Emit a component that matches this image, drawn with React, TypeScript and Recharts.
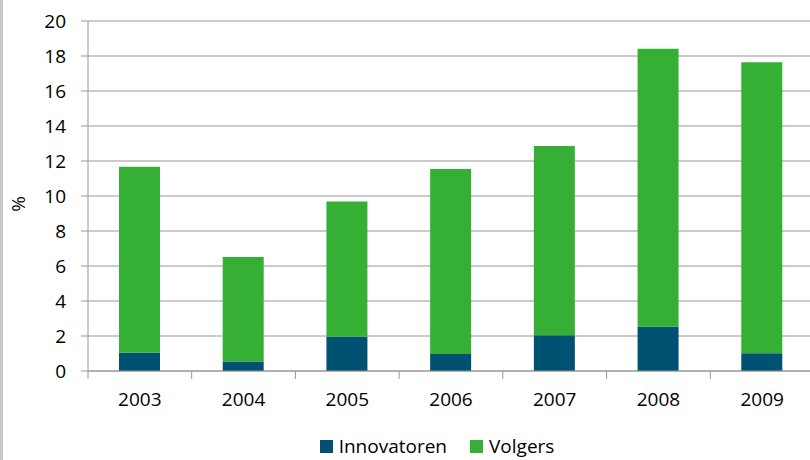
import React from 'react';
import { BarChart, Bar, XAxis, YAxis, CartesianGrid, Legend } from 'recharts';

const years = ['2003', '2004', '2005', '2006', '2007', '2008', '2009'];
const innovatoren = [1.05, 0.55, 1.96, 0.97, 2.04, 2.53, 1.01];
const volgers = [10.62, 5.96, 7.73, 10.57, 10.82, 15.89, 16.63];
const yTicks = [0, 2, 4, 6, 8, 10, 12, 14, 16, 18, 20];
const seriesNames = ['Innovatoren', 'Volgers'];
const colors = ['#005172', '#35b035'];

const data = years.map((y, i) => ({ year: y, innovatoren: innovatoren[i], volgers: volgers[i] }));

const FONT = '"Open Sans", "Noto Sans", sans-serif';
const GRID = '#979797';
const TICK_MARGIN = 22;

const XTick = (props: any) => {
  const { x, y, payload, index, visibleTicksCount } = props;
  const half = payload && typeof payload.offset === 'number' ? payload.offset : 0;
  const axisY = y - TICK_MARGIN;
  return (
    <g>
      <line x1={x - half} x2={x - half} y1={axisY} y2={axisY + 8} stroke={GRID} strokeWidth={1} />
      {index === visibleTicksCount - 1 && (
        <line x1={x + half} x2={x + half} y1={axisY} y2={axisY + 8} stroke={GRID} strokeWidth={1} />
      )}
      <text x={x} y={y} dy="0.71em" textAnchor="middle" fill="#000" fontSize={19} fontFamily={FONT}>
        {payload.value}
      </text>
    </g>
  );
};

const LegendContent = () => (
  <div style={{ display: 'flex', justifyContent: 'center', paddingLeft: 60, height: 28, alignItems: 'center', fontFamily: FONT, fontSize: 19, color: '#000' }}>
    {seriesNames.map((n, i) => (
      <div key={n} style={{ display: 'flex', alignItems: 'center', marginRight: i === 0 ? 23 : 0 }}>
        <div style={{ width: 13, height: 13, background: colors[i], marginRight: 6 }} />
        <span style={{ lineHeight: '28px' }}>{n}</span>
      </div>
    ))}
  </div>
);

export default function App() {
  return (
    <div style={{ position: 'absolute', left: 0, top: 0, width: 810, height: 460, overflow: 'hidden', background: '#fff' }}>
      <div style={{ position: 'absolute', left: 0, top: 0, width: 3, height: 460, background: '#c8c8c8' }} />
      <BarChart
        width={816}
        height={460}
        data={data}
        margin={{ top: 21, right: 2, left: 0, bottom: 0 }}
        barSize={41}
      >
        <CartesianGrid vertical={false} stroke={GRID} strokeWidth={1} />
        <XAxis
          dataKey="year"
          height={61}
          tickLine={false}
          tickSize={0}
          tickMargin={TICK_MARGIN}
          axisLine={{ stroke: GRID }}
          tick={<XTick />}
          interval={0}
        />
        <YAxis
          width={88}
          domain={[0, 20]}
          ticks={yTicks}
          interval={0}
          tickSize={7}
          tickMargin={15}
          tickLine={{ stroke: GRID }}
          axisLine={{ stroke: GRID }}
          tick={{ fill: '#000', fontSize: 19, fontFamily: FONT }}
          label={{
            content: () => (
              <text x={18} y={204} transform="rotate(-90 18 204)" textAnchor="middle" dominantBaseline="central" fontSize={19} fontFamily={FONT} fill="#000">
                %
              </text>
            ),
          }}
        />
        <Legend verticalAlign="bottom" content={<LegendContent />} />
        <Bar dataKey="innovatoren" name={seriesNames[0]} stackId="a" fill={colors[0]} isAnimationActive={false} />
        <Bar dataKey="volgers" name={seriesNames[1]} stackId="a" fill={colors[1]} isAnimationActive={false} />
      </BarChart>
    </div>
  );
}
